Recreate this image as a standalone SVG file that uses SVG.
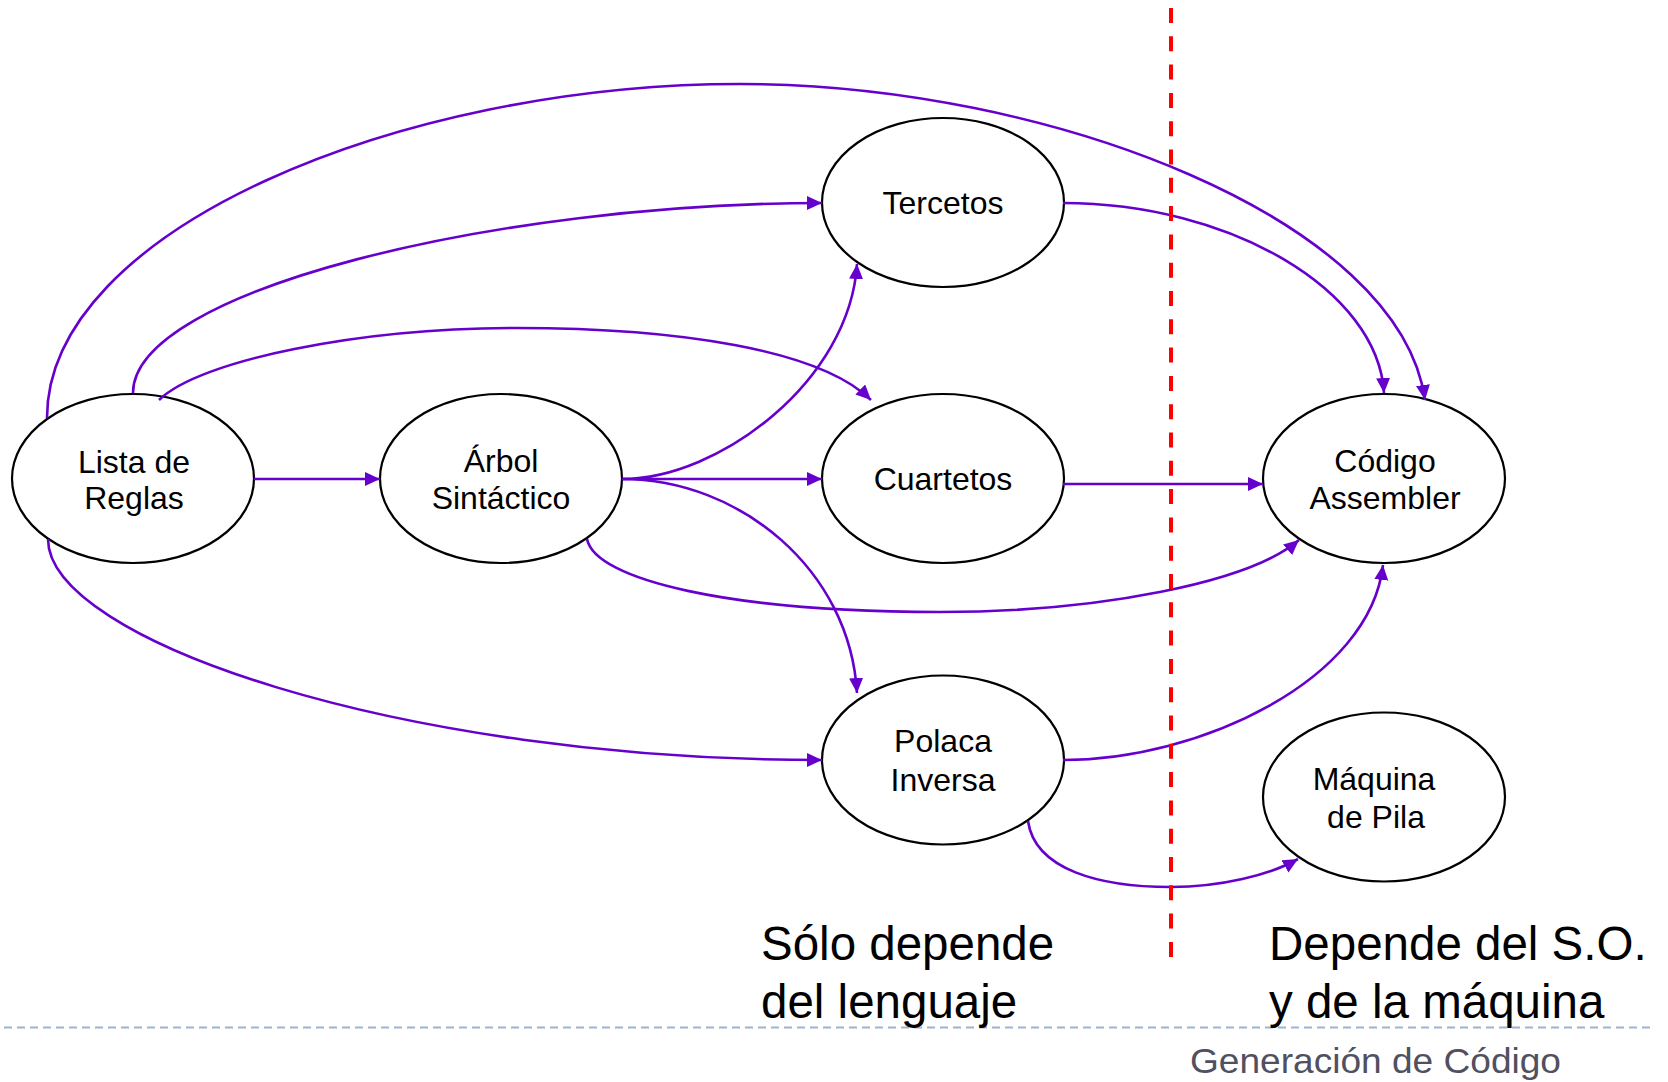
<svg xmlns="http://www.w3.org/2000/svg" width="1668" height="1082" viewBox="0 0 1668 1082">
<defs>
<style>
.node ellipse{fill:#fff;stroke:#000;stroke-width:2.2}
.node text{font-family:"Liberation Sans",Arial,sans-serif;font-size:32px;fill:#000;text-anchor:middle}
.edge{fill:none;stroke:#6600CC;stroke-width:2.6;marker-end:url(#arr)}
.big{font-family:"Liberation Sans",Arial,sans-serif;font-size:47.5px;fill:#000}
</style>
<marker id="arr" markerUnits="userSpaceOnUse" markerWidth="16" markerHeight="15" refX="15" refY="7" orient="auto" viewBox="0 0 16 15">
<path d="M0,0 L15,7 L0,14 z" fill="#6600CC"/>
</marker>
</defs>
<rect width="1668" height="1082" fill="#fff"/>

<g id="lista" class="node"><ellipse cx="133" cy="478.5" rx="121" ry="84.5"/><text x="134" y="473">Lista de</text><text x="134" y="509">Reglas</text></g>
<g id="arbol" class="node"><ellipse cx="501" cy="478.5" rx="121" ry="84.5"/><text x="501" y="472">Árbol</text><text x="501" y="509">Sintáctico</text></g>
<g id="tercetos" class="node"><ellipse cx="943" cy="202.5" rx="121" ry="84.5"/><text x="943" y="214">Tercetos</text></g>
<g id="cuartetos" class="node"><ellipse cx="943" cy="478.5" rx="121" ry="84.5"/><text x="943" y="490">Cuartetos</text></g>
<g id="polaca" class="node"><ellipse cx="943" cy="760" rx="121" ry="84.5"/><text x="943" y="752">Polaca</text><text x="943" y="791">Inversa</text></g>
<g id="codigo" class="node"><ellipse cx="1384" cy="478.5" rx="121" ry="84.5"/><text x="1385" y="472">Código</text><text x="1385" y="509">Assembler</text></g>
<g id="maquina" class="node"><ellipse cx="1384" cy="797" rx="121" ry="84.5"/><text x="1374" y="790">Máquina</text><text x="1376" y="828">de Pila</text></g>

<g id="connectors">
<path class="edge" d="M254,479 L380,479"/>
<path class="edge" d="M47,418 C47,230 400,84 740,84 C1050,84 1400,220 1425,400"/>
<path class="edge" d="M133,393 C133,290 500,203 822,203"/>
<path class="edge" d="M159,400 C200,360 360,328 516,328 C680,328 820,350 871,400"/>
<path class="edge" d="M48,539 C48,640 400,760 822,760"/>
<path class="edge" d="M622,479 C720,479 850,380 857,264"/>
<path class="edge" d="M622,479 L822,479"/>
<path class="edge" d="M622,479 C740,479 850,570 857,693"/>
<path class="edge" d="M587,539 C595,580 730,612 940,612 C1100,612 1250,582 1299,540"/>
<path class="edge" d="M1063,203 C1230,203 1378,290 1384,393"/>
<path class="edge" d="M1063,484 L1263,484"/>
<path class="edge" d="M1063,760 C1200,760 1370,680 1383,565"/>
<path class="edge" d="M1028,821 C1035,870 1100,887 1171,887 C1220,887 1270,875 1298,859"/>
</g>

<line x1="1171" y1="8" x2="1171" y2="960" stroke="#FF0000" stroke-width="4" stroke-dasharray="15 13.3"/>
<line x1="4" y1="1027.5" x2="1650" y2="1027.5" stroke="#9DB3CF" stroke-width="2" stroke-dasharray="8 5"/>

<text class="big" x="761" y="960">Sólo depende</text>
<text class="big" x="761" y="1018">del lenguaje</text>
<text class="big" x="1269" y="960">Depende del S.O.</text>
<text class="big" x="1269" y="1018">y de la máquina</text>
<text x="1190" y="1073" font-family="'Liberation Sans',Arial,sans-serif" font-size="35" fill="#505060" textLength="371" lengthAdjust="spacingAndGlyphs">Generación de Código</text>
</svg>
